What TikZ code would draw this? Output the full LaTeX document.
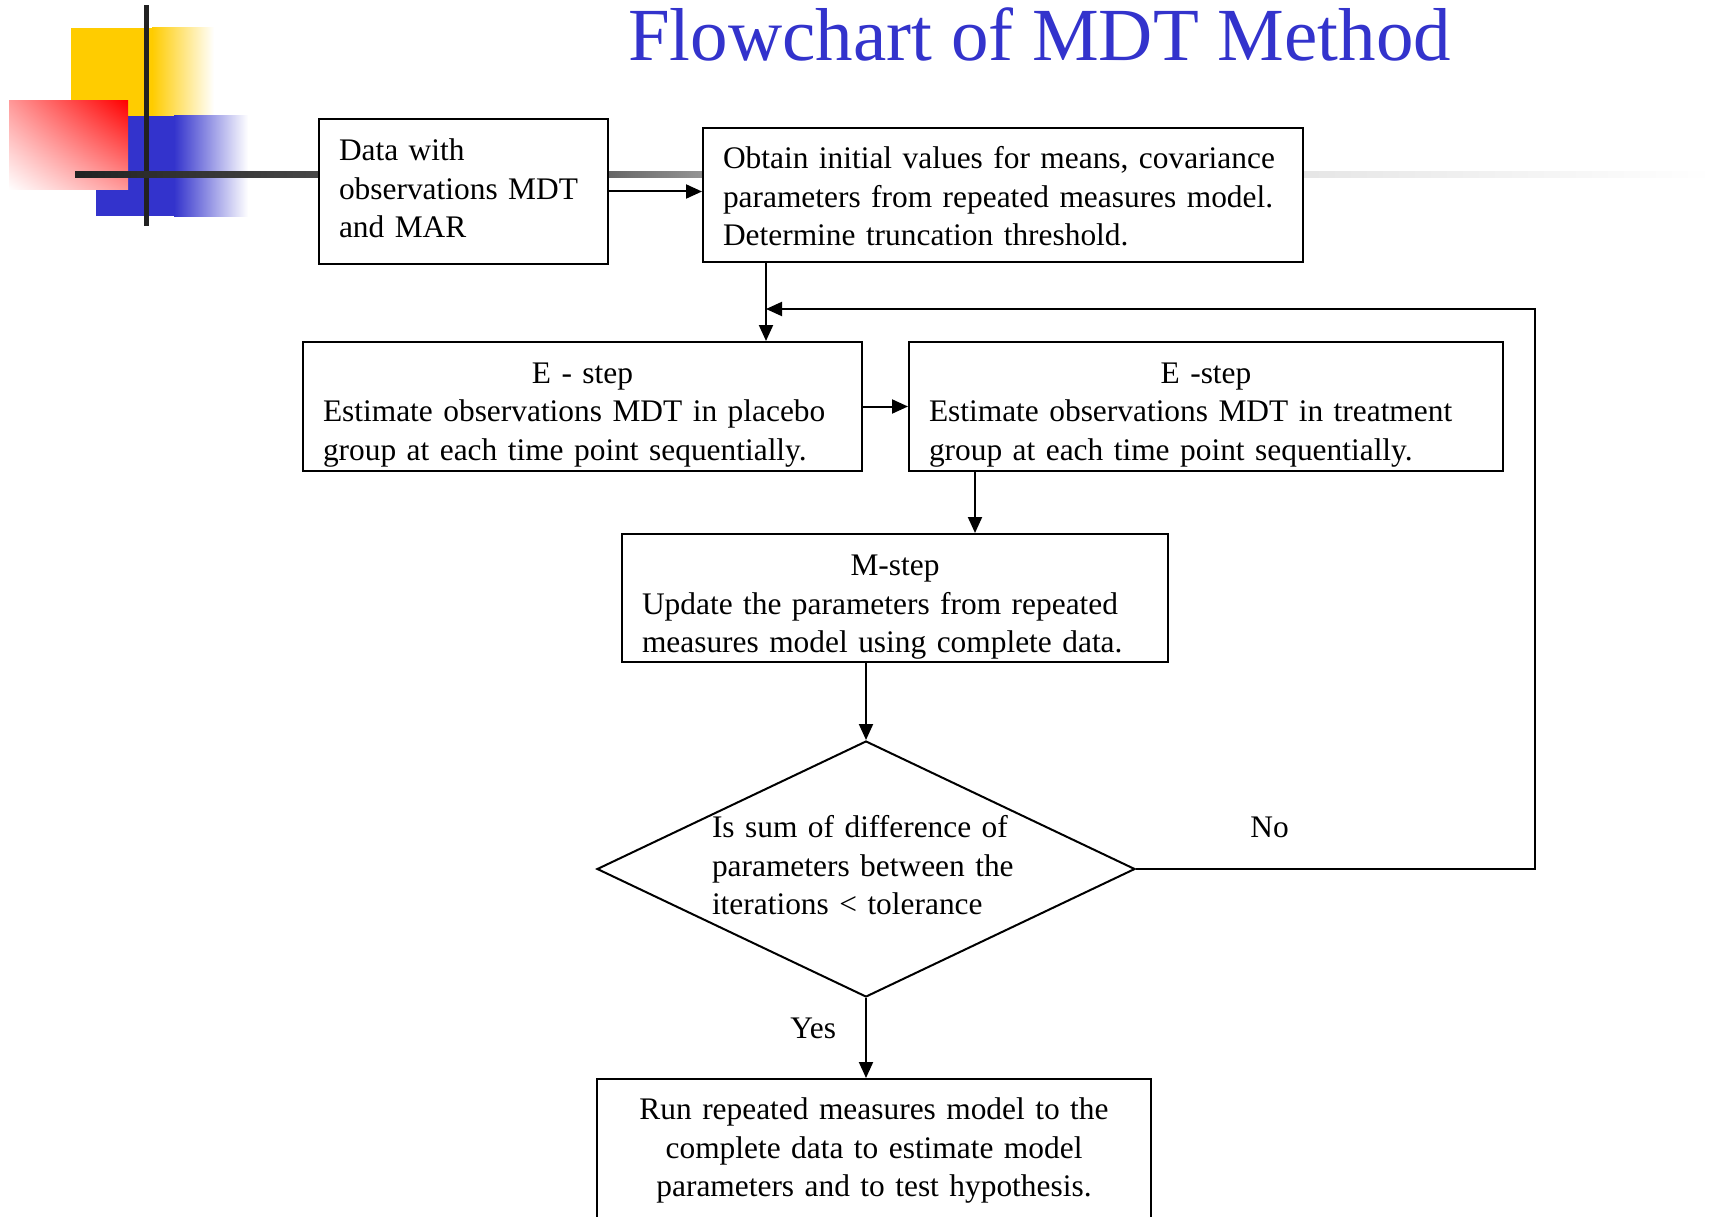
\documentclass[tikz,border=0pt]{standalone}
\usepackage{fontspec}
\setmainfont{Liberation Serif}
\usepackage{tikz}
\usetikzlibrary{arrows.meta,shapes.geometric,shadings,calc}
\definecolor{titleblue}{RGB}{51,51,204}
\definecolor{decoyellow}{RGB}{255,204,0}
\definecolor{decored}{RGB}{255,0,0}
\definecolor{decoblue}{RGB}{51,51,204}
\definecolor{decoline}{RGB}{34,34,34}

\tikzset{
  procbox/.style={draw, line width=2pt, fill=white, inner xsep=20pt, inner ysep=0pt, anchor=north west, align=left},
  decision/.style={draw, diamond, line width=2pt, fill=white, inner sep=0pt, shape aspect=2.1, align=left},
  flow/.style={line width=2pt, -{Triangle[length=16pt,width=14pt]}},
  lbl/.style={inner sep=0pt},
}

\begin{document}
\begin{tikzpicture}[x=1pt, y=-1pt, font=\fontsize{31.4}{38.5}\selectfont]
    \useasboundingbox (0,0) rectangle (1712,1217);
    \clip (0,0) rectangle (1712,1217);

    % Corner decoration
    \fill[decoyellow] (71,28) rectangle (152,116);
    \shade[left color=decoyellow, right color=white] (152,28) rectangle (214,116);
    \fill[decoblue] (96,116) rectangle (174,216);
    \shade[left color=decoblue, right color=white] (174,116) rectangle (248,216);
    \shade[upper right=decored, lower left=white, upper left=decored!40!white, lower right=decored!40!white] (9,101) rectangle (128,190);
    \fill[decoline] (143.5,5) rectangle (148.5,226);

    % Rule across the top
    \shade[left color=decoline, right color=black!72] (75,171.5) rectangle (318,177.5);
    \shade[left color=black!60, right color=black!42] (607,171.5) rectangle (702,177.5);
    \shade[left color=black!10, right color=white] (1302,171.5) rectangle (1712,177.5);

    % Title
    \node[anchor=base west, inner sep=0pt, text=titleblue, font=\fontsize{75}{80}\selectfont] (title) at (628,61) {Flowchart of MDT Method};

    % Boxes
    \node[procbox, text height=42pt, text depth=103pt, text width=249pt] (data) at (318,118) {Data with\\observations MDT\\and MAR};
    \node[procbox, text height=41pt, text depth=93pt, text width=560pt] (init) at (702,127) {Obtain initial values for means, covariance\\parameters from repeated measures model.\\Determine truncation threshold.};
    \node[procbox, text height=41pt, text depth=88pt, text width=519pt] (eplac) at (302,341) {\makebox[\hsize]{E - step}\\Estimate observations MDT in placebo\\group at each time point sequentially.};
    \node[procbox, text height=41pt, text depth=88pt, text width=554pt] (etreat) at (908,341) {\makebox[\hsize]{E -step}\\Estimate observations MDT in treatment\\group at each time point sequentially.};
    \node[procbox, text height=41.5pt, text depth=86.5pt, text width=506pt] (mstep) at (621,533) {\makebox[\hsize]{M-step}\\Update the parameters from repeated\\measures model using complete data.};
    \node[decision, minimum width=538pt, minimum height=256pt, text height=23pt, text depth=86pt, text width=308pt] (decide) at (866,869) {Is sum of difference of\\parameters between the\\iterations < tolerance};
    \node[procbox, anchor=north, align=center, text height=40.5pt, text depth=150pt, text width=514pt] (final) at (874,1078) {Run repeated measures model to the\\complete data to estimate model\\parameters and to test hypothesis.};

    % Connectors
    \draw[flow] (data.east) -- (data.east -| init.west);
    \path (init.south west) ++(64,0) coordinate (drop);
    \draw[flow] (drop) -- (drop |- eplac.north);
    \draw[flow] (eplac.east) -- (eplac.east -| etreat.west);
    \path (etreat.south west) ++(67,0) coordinate (tap);
    \draw[flow] (tap) -- (tap |- mstep.north);
    \draw[flow] (decide.north |- mstep.south) -- (decide.north);
    \draw[flow] (decide.south) -- node[lbl, pos=0.38, left=29pt] {Yes} (decide.south |- final.north);

    % Loop back when not converged
    \coordinate (loopturn) at (1535,309);
    \draw[flow] (decide.east) -- node[lbl, pos=0.335, above=30pt] {No} (decide.east -| loopturn) -- (loopturn) -- (loopturn -| drop);
\end{tikzpicture}
\end{document}
